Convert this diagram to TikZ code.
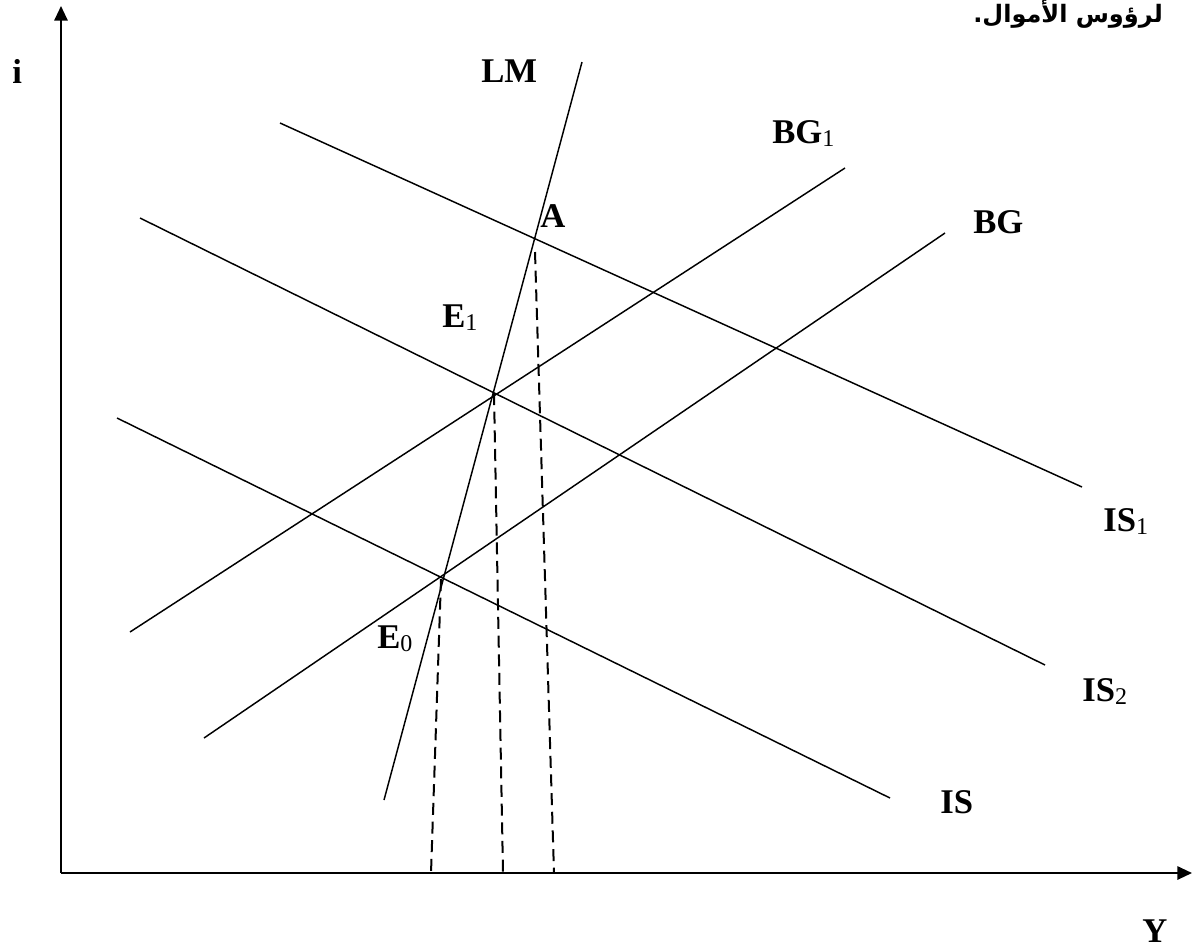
\documentclass[tikz,border=0pt]{standalone}
\usepackage{fontspec}
\setmainfont{Liberation Serif}
\newfontfamily\arabicfont[Script=Arabic]{DejaVu Sans}
\TeXXeTstate=1
\usetikzlibrary{arrows.meta}
\tikzset{
  axis/.style={line width=1.5pt,-{Triangle[length=11pt,width=10pt]}},
  curve/.style={line width=1.1pt},
  guide/.style={line width=1.5pt,dash pattern=on 9pt off 5pt},
  lab/.style={anchor=base west,inner sep=0pt,font=\fontsize{26}{30}\selectfont\bfseries},
}
\newcommand{\sbs}[1]{\raisebox{-0.25ex}{\fontsize{18}{18}\selectfont\mdseries #1}}
\begin{document}
\begin{tikzpicture}[x=0.75pt,y=-0.75pt]
\useasboundingbox (0,0) rectangle (1192,951);
% axes
\coordinate (O) at (61,873);
\coordinate (Ytip) at (1192,873);
\coordinate (Itip) at (61,6);
\draw[axis] (O) -- (Ytip);
\draw[axis] (O) -- (Itip);
% curve endpoints
\coordinate (LMa) at (384,800); \coordinate (LMb) at (582,62);
\coordinate (IS1a) at (280,123); \coordinate (IS1b) at (1082,487);
\coordinate (IS2a) at (140,218); \coordinate (IS2b) at (1045,665);
\coordinate (ISa) at (117,418); \coordinate (ISb) at (890,798);
\coordinate (BG1a) at (130,632); \coordinate (BG1b) at (845,168);
\coordinate (BGa) at (204,738); \coordinate (BGb) at (945,233);
\draw[curve] (LMa) -- (LMb);
\draw[curve] (IS1a) -- (IS1b);
\draw[curve] (IS2a) -- (IS2b);
\draw[curve] (ISa) -- (ISb);
\draw[curve] (BG1a) -- (BG1b);
\draw[curve] (BGa) -- (BGb);
% equilibrium points
\coordinate (E0) at (441,579);
\coordinate (E1) at (494,393);
\coordinate (A) at (535,252);
\coordinate (E0x) at (431,873);
\coordinate (E1x) at (503,873);
\coordinate (Ax) at (554,873);
\draw[guide] (E0) -- (E0x);
\draw[guide] (E1) -- (E1x);
\draw[guide] (A) -- (Ax);
% labels
\node[lab] (li) at (12,83) {i};
\node[lab] (lY) at (1142,942) {Y};
\node[lab] (lLM) at (481,82) {LM};
\node[lab] (lBG1) at (772,143) {BG\sbs{1}};
\node[lab] (lBG) at (973,233) {BG};
\node[lab] (lIS1) at (1103,531) {IS\sbs{1}};
\node[lab] (lIS2) at (1082,701) {IS\sbs{2}};
\node[lab] (lIS) at (940,813) {IS};
\node[lab] (lA) at (540,227) {A};
\node[lab] (lE1) at (442,327) {E\sbs{1}};
\node[lab] (lE0) at (377,648) {E\sbs{0}};
\node[anchor=base east,inner sep=0pt,font=\fontsize{18}{22}\selectfont] (ar) at (1163,22) {\arabicfont\bfseries\beginR لرؤوس الأموال.\endR};
\end{tikzpicture}
\end{document}
